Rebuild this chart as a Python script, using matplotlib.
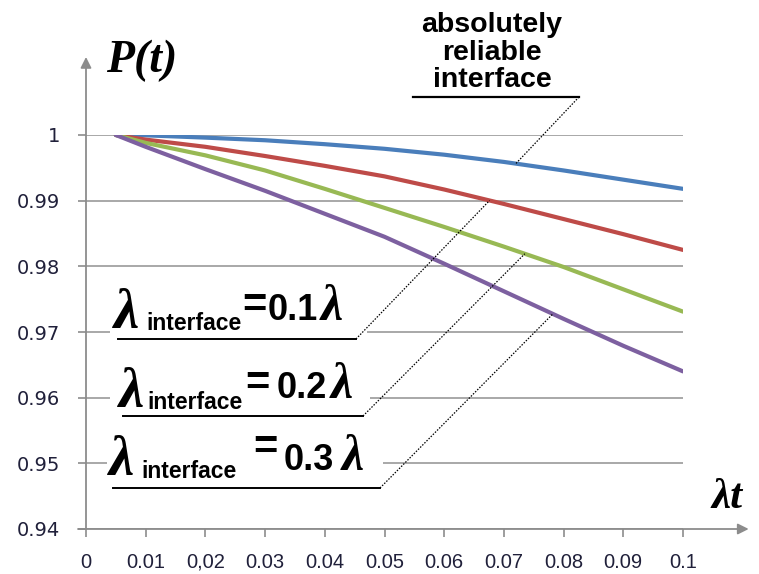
import numpy as np
import matplotlib
matplotlib.use("Agg")
import matplotlib.pyplot as plt
from matplotlib.patches import Rectangle

# lambda*t values and the reliability curves
lam_t = [0.005, 0.01, 0.02, 0.03, 0.04, 0.05, 0.06, 0.07, 0.08, 0.09, 0.1]
p_reliable = [1.0, 0.99995, 0.9996, 0.9992, 0.9986, 0.9979, 0.9970, 0.9959, 0.9946, 0.9932, 0.9918]
p_k01 = [1.0, 0.9993, 0.9982, 0.9968, 0.9953, 0.9937, 0.9917, 0.9895, 0.9872, 0.9849, 0.9825]
p_k02 = [1.0, 0.9988, 0.9969, 0.9946, 0.9918, 0.9889, 0.9860, 0.9830, 0.9799, 0.9765, 0.9731]
p_k03 = [1.0, 0.9982, 0.9948, 0.9915, 0.9880, 0.9845, 0.9804, 0.9762, 0.9720, 0.9679, 0.9640]

x_ticks = [0, 0.01, 0.02, 0.03, 0.04, 0.05, 0.06, 0.07, 0.08, 0.09, 0.1]
x_tick_labels = ["0", "0.01", "0,02", "0.03", "0.04", "0.05", "0.06", "0.07", "0.08", "0.09", "0.1"]
y_ticks = [0.94, 0.95, 0.96, 0.97, 0.98, 0.99, 1.0]
y_tick_labels = ["0.94", "0.95", "0.96", "0.97", "0.98", "0.99", "1"]

series = [
    (p_reliable, "#4a7ebb"),
    (p_k01, "#be4b48"),
    (p_k02, "#98b954"),
    (p_k03, "#7d60a0"),
]

W, H = 759, 574
fig = plt.figure(figsize=(W / 100, H / 100), dpi=100)
fig.patch.set_facecolor("white")

L, R, B, T = 86, 683, 529, 135
ax = fig.add_axes([L / W, 1 - B / H, (R - L) / W, (B - T) / H])
ax.set_zorder(1)
ax.set_xlim(0, 0.1)
ax.set_ylim(0.94, 1.0)

grid_col = "#9a9a9a"
axis_col = "#8c8c8c"
lbl_col = "#20203a"

for vals, col in series:
    ax.plot(lam_t, vals, color=col, lw=3.0, solid_capstyle="round", zorder=3)

ax.set_xticks(x_ticks)
ax.set_xticklabels(x_tick_labels, family="Liberation Sans", fontsize=14.5, color=lbl_col)
for t in ax.get_xticklabels():
    t.set_verticalalignment("baseline")
ax.set_yticks(y_ticks)
ax.set_yticklabels(y_tick_labels, family="DejaVu Sans", fontsize=14, color=lbl_col)
ax.tick_params(axis="both", direction="out", length=5.8, width=1.2, color=axis_col)
ax.tick_params(axis="y", pad=13)
ax.tick_params(axis="x", pad=22)
ax.grid(axis="y", color=grid_col, lw=1.2)
ax.grid(axis="x", visible=False)
for s in ax.spines.values():
    s.set_visible(False)

# axis lines with arrow heads
arrow_kw = dict(arrowstyle="-|>", color=axis_col, lw=1.3, mutation_scale=16,
                shrinkA=0, shrinkB=0)
ax.annotate("", xy=(0, 1.198), xytext=(0, 0), xycoords="axes fraction",
            textcoords="axes fraction", arrowprops=arrow_kw, annotation_clip=False)
ax.annotate("", xy=(1.11, 0), xytext=(-0.0134, 0), xycoords="axes fraction",
            textcoords="axes fraction", arrowprops=arrow_kw, annotation_clip=False)

# overlay in pixel units for annotations
ov = fig.add_axes([0, 0, 1, 1])
ov.set_zorder(2)
ov.set_xlim(0, W)
ov.set_ylim(H, 0)
ov.axis("off")
ov.patch.set_alpha(0)


def to_px(x, y):
    d = ax.transData.transform((x, y))
    return ov.transData.inverted().transform(d)


serif = "Liberation Serif"
sans = "Liberation Sans"

ov.text(106, 72, "P(t)", family=serif, style="italic", weight="bold", fontsize=33,
        color="black", va="baseline")
ov.text(711, 508, "λt", family=serif, style="italic", weight="bold", fontsize=31,
        color="black", va="baseline")

# "absolutely reliable interface" caption
for txt, base in [("absolutely", 32), ("reliable", 60), ("interface", 87)]:
    ov.text(492, base, txt, family=sans, weight="bold", fontsize=20.5, ha="center",
            va="baseline", color="black")
ov.plot([413, 579], [97, 97], color="black", lw=1.6)
ex, ey = to_px(0.072, np.interp(0.072, lam_t, p_reliable))
ov.plot([579, ex], [97, ey], color="black", lw=0.9, ls=(0, (1.2, 1.2)))

# ratio labels
labels = [
    dict(bg=(110, 283, 367, 341), lam=(114, 328), sub=(146, 330), eq=(242, 317),
         num=(268, 320), lam2=(321, 320), text="0.1", line=(118, 356, 339),
         curve=p_k01, xc=0.0676),
    dict(bg=(110, 358, 370, 419), lam=(119, 407), sub=(147, 409), eq=(245, 395),
         num=(277, 398), lam2=(331, 398), text="0.2", line=(123, 363, 416),
         curve=p_k02, xc=0.0735),
    dict(bg=(107, 427, 383, 490), lam=(109, 475), sub=(141, 478), eq=(253, 459),
         num=(284, 470), lam2=(342, 470), text="0.3", line=(113, 380, 488),
         curve=p_k03, xc=0.0782),
]
for lb in labels:
    x0, y0, x1, y1 = lb["bg"]
    ov.add_patch(Rectangle((x0, y0), x1 - x0, y1 - y0, facecolor="white",
                           edgecolor="none", zorder=1))
    ov.text(*lb["lam"], "λ", family=serif, style="italic", weight="bold",
            fontsize=41, va="baseline", zorder=3)
    ov.text(*lb["sub"], "interface", family=sans, weight="bold", fontsize=16.5,
            va="baseline", zorder=3)
    ov.text(*lb["eq"], "=", family=sans, weight="bold", fontsize=30,
            va="baseline", zorder=3)
    ov.text(*lb["num"], lb["text"], family=sans, weight="bold", fontsize=26,
            va="baseline", zorder=3)
    ov.text(*lb["lam2"], "λ", family=serif, style="italic", weight="bold",
            fontsize=36, va="baseline", zorder=3)
    lx0, lx1, ly = lb["line"]
    ov.plot([lx0, lx1], [ly, ly], color="black", lw=1.4, zorder=3)
    cx, cy = to_px(lb["xc"], np.interp(lb["xc"], lam_t, lb["curve"]))
    ov.plot([lx1, cx], [ly, cy], color="black", lw=0.9, ls=(0, (1.2, 1.2)), zorder=3)

fig.savefig("out.png", dpi=100, facecolor="white")
